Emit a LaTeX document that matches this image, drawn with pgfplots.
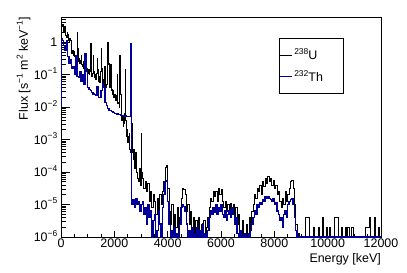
\documentclass[border=0pt]{standalone}
\usepackage{pgfplots}
\pgfplotsset{compat=1.18}
\usepackage{pgfplotstable}
\usepackage{fontspec}
\setmainfont{Liberation Sans}
\definecolor{rootblue}{RGB}{0,0,153}
\newcommand{\supx}[1]{\raisebox{0.42em}{\fontsize{8.5}{9}\selectfont #1}}
\newcommand{\lblfont}{\fontsize{12.5}{14}\selectfont}

\pgfplotstableread{
x y
0 2.51
25 3.16
50 3.55
75 2.24
100 2.0
125 2.82
150 2.51
175 1.58
200 1.41
225 2.0
250 1.78
275 1.12
300 1.0
325 1.26
350 1.12
375 0.501
400 0.447
425 0.562
450 0.398
475 0.501
500 0.355
525 0.316
550 0.398
575 0.282
600 2.0
625 0.631
650 0.251
675 0.316
700 0.224
725 0.282
750 0.398
775 0.200
800 0.178
825 0.251
850 0.158
875 0.200
900 0.316
925 0.178
950 0.126
975 0.158
1000 0.112
1025 0.141
1050 0.100
1075 0.126
1100 0.891
1125 0.200
1150 0.0891
1175 0.112
1200 0.398
1225 0.126
1250 0.0794
1275 0.100
1300 0.0708
1325 0.112
1350 0.316
1375 0.141
1400 0.0631
1425 0.0891
1450 0.0562
1475 0.126
1500 0.631
1525 0.158
1550 0.0501
1575 0.0708
1600 0.0447
1625 0.178
1650 0.0631
1675 0.0398
1700 0.0501
1725 0.251
1750 1.0
1775 0.200
1800 0.224
1825 0.0398
1850 0.200
1875 0.0316
1900 0.0355
1925 0.0251
1950 0.0316
1975 0.0200
2000 0.0251
2025 0.0178
2050 0.0158
2075 0.0224
2100 0.100
2125 0.0126
2150 0.0141
2175 0.0100
2200 0.398
2225 0.0251
2250 0.00631
2275 0.00398
2300 0.00501
2325 0.00251
2350 0.00316
2375 0.00631
2400 0.141
2425 0.00398
2450 0.00126
2475 0.00200
2500 7.94e-4
2525 1.26e-3
2550 1.58e-3
2575 5.01e-4
2600 3.98e-4
2625 7.94e-4
2650 3.16e-3
2675 3.98e-4
2700 2.51e-4
2725 5.01e-4
2750 1.26e-4
2775 2.51e-4
2800 3.98e-4
2825 1.0e-4
2850 1.0e-4
2875 6.31e-5
2900 5.01e-5
2925 1.26e-4
2950 1.26e-4
2975 3.98e-5
3000 1.58e-3
3025 1.0e-4
3050 6.31e-5
3100 3.16e-5
3150 5.01e-5
3200 2.51e-5
3250 4.47e-5
3300 1.26e-5
3350 2.51e-5
3400 7.94e-6
3450 2.0e-5
3500 1.26e-5
3550 5.01e-6
3600 1.58e-5
3650 6.31e-6
3700 2.0e-5
3750 1.0e-5
3800 2.51e-5
3850 5.01e-5
3900 1.41e-4
3950 1.58e-4
4000 3.16e-5
4050 6.31e-6
4100 2.51e-6
4150 1.0e-5
4200 1.26e-6
4250 5.01e-6
4300 2.0e-6
4350 7.94e-6
4400 1e-6
4450 3.98e-6
4500 1.58e-5
4550 3.16e-5
4600 2.82e-5
4650 2.0e-5
4700 6.31e-6
4750 1.0e-5
4800 2.51e-6
4850 6.31e-6
4900 1.58e-6
4950 3.98e-6
5000 1e-6
5050 3.16e-6
5100 1.58e-6
5150 3.98e-6
5200 1e-6
5250 2.51e-6
5300 1.26e-6
5350 3.16e-6
5400 1e-6
5450 2.0e-6
5500 3.98e-6
5550 7.94e-6
5600 1.58e-5
5650 1.26e-5
5700 2.51e-5
5750 1.78e-5
5800 2.51e-5
5850 1.26e-5
5900 3.16e-5
5950 2.0e-5
6000 2.82e-5
6050 1.26e-5
6100 7.94e-6
6150 1.26e-5
6200 6.31e-6
6250 1.0e-5
6300 5.01e-6
6350 1.12e-5
6400 6.31e-6
6450 1.0e-5
6500 3.98e-6
6550 7.94e-6
6600 2.51e-6
6650 5.01e-6
6700 1.58e-6
6750 1e-6
6800 3.16e-6
6850 1.26e-6
6900 1e-6
6950 2.51e-6
7000 1.26e-6
7050 3.98e-6
7100 1.58e-6
7150 6.31e-6
7200 1.0e-5
7250 2.0e-5
7300 1.58e-5
7350 3.16e-5
7400 2.51e-5
7450 3.98e-5
7500 2.0e-5
7550 5.01e-5
7600 3.55e-5
7650 6.31e-5
7700 4.47e-5
7750 7.08e-5
7800 5.01e-5
7850 6.31e-5
7900 3.98e-5
7950 5.62e-5
8000 3.16e-5
8050 3.98e-5
8100 2.0e-5
8150 2.51e-5
8200 1.26e-5
8250 7.94e-6
8300 1.58e-5
8350 1.0e-5
8400 2.51e-5
8450 1.26e-5
8500 2.0e-5
8550 3.16e-5
8600 5.01e-5
8650 5.62e-5
8700 3.16e-5
8750 1.0e-5
8800 2.51e-6
8850 1e-6
8900 1.3e-6
8950 1e-6
9150 4e-6
9250 4e-6
9300 1e-6
9450 2e-6
9500 1e-6
9650 2e-6
9700 1e-6
9800 4e-6
9850 1e-6
9950 2e-6
10000 1e-6
10050 2e-6
10100 1e-6
10250 4e-6
10400 1e-6
10500 2e-6
10550 1e-6
10650 2e-6
10700 1e-6
10750 2e-6
10800 1e-6
10900 2e-6
10950 1e-6
11400 2e-6
11550 4e-6
11600 1e-6
11750 4e-6
11800 1e-6
11900 2e-6
11950 1e-6
12000 1e-6
}\tabU

\pgfplotstableread{
x y
0 0.011
15 1.26
50 1.12
100 0.79
150 0.56
200 1.15
250 0.355
300 0.224
350 0.282
400 0.158
450 0.178
500 0.100
550 0.398
600 0.0891
650 0.0794
700 0.126
750 0.0631
800 0.100
850 0.0501
900 0.447
950 0.158
1000 0.0398
1050 0.0355
1100 0.0316
1150 0.0282
1200 0.0251
1250 0.0240
1300 0.0224
1350 0.0417
1400 0.0200
1450 0.0191
1500 0.0316
1550 0.0537
1600 0.0398
1650 0.0141
1700 0.0112
1750 0.0089
1800 0.0079
1850 0.0076
1900 0.0071
1950 0.0068
2000 0.0065
2050 0.0063
2100 0.0061
2150 0.0059
2200 0.0058
2250 0.0056
2300 0.0055
2350 0.0054
2400 0.0053
2450 0.0052
2500 0.0051
2550 0.0050
2600 0.93
2650 1.0e-5
2700 1.41e-5
2750 7.94e-6
2800 1.58e-5
2850 1.0e-5
2900 1.26e-5
2950 6.31e-6
3000 1.0e-5
3050 1.26e-5
3100 5.01e-6
3150 7.94e-6
3200 2.51e-6
3250 1.0e-5
3300 3.98e-6
3350 6.31e-6
3400 1e-6
3450 3.16e-6
3500 5.01e-6
3550 1e-6
3600 1.58e-6
3650 6.31e-6
3700 2.51e-6
3750 1e-6
3800 7.94e-6
3850 2.0e-5
3900 5.01e-5
3950 5.62e-5
4000 1.26e-5
4050 2.51e-6
4100 1e-6
4150 1.58e-6
4200 1e-6
4250 2.0e-6
4300 1e-6
4350 1.26e-6
4400 1e-6
4450 2.51e-6
4500 7.94e-6
4550 1.0e-5
4600 8.91e-6
4650 6.31e-6
4700 2.51e-6
4750 1e-6
4800 1.58e-6
4850 1e-6
4900 2.0e-6
4950 1e-6
5000 1.26e-6
5050 1e-6
5100 2.0e-6
5150 1e-6
5200 1.58e-6
5250 1e-6
5300 2.51e-6
5350 1e-6
5400 1.26e-6
5450 1e-6
5500 1.58e-6
5550 3.98e-6
5600 6.31e-6
5650 5.01e-6
5700 7.94e-6
5750 5.62e-6
5800 1.0e-5
5850 5.01e-6
5900 7.94e-6
5950 6.31e-6
6000 1.0e-5
6050 5.01e-6
6100 3.98e-6
6150 6.31e-6
6200 3.16e-6
6250 5.01e-6
6300 6.31e-6
6350 3.98e-6
6400 7.94e-6
6450 5.01e-6
6500 2.51e-6
6550 3.98e-6
6600 1.26e-6
6650 1e-6
6700 1.58e-6
6750 1e-6
6850 1.26e-6
6900 1e-6
7000 1.26e-6
7050 1e-6
7100 1.58e-6
7150 2.51e-6
7200 3.98e-6
7250 6.31e-6
7300 5.01e-6
7350 1.0e-5
7400 7.94e-6
7450 1.12e-5
7500 1.0e-5
7550 1.41e-5
7600 1.26e-5
7650 1.78e-5
7700 1.58e-5
7750 1.78e-5
7800 1.58e-5
7850 1.41e-5
7900 1.26e-5
7950 1.58e-5
8000 1.0e-5
8050 1.12e-5
8100 6.31e-6
8150 5.01e-6
8200 3.16e-6
8250 3.98e-6
8300 2.0e-6
8350 5.01e-6
8400 6.31e-6
8450 3.98e-6
8500 1.0e-5
8550 1.26e-5
8600 1.41e-5
8650 1.58e-5
8700 1.0e-5
8750 3.98e-6
8800 1.58e-6
8850 1e-6
12000 1e-6
}\tabTh

\begin{document}
\begin{tikzpicture}
\path[use as bounding box] (-61bp,-36bp) rectangle (346bp,237bp);
\begin{axis}[
  at={(0,0)}, anchor=south west,
  scale only axis, width=320bp, height=220bp,
  ymode=log, xmin=0, xmax=12000, ymin=1e-6, ymax=5.9,
  clip=false,
  scaled x ticks=false,
  axis line style={line width=0.7bp},
  xtick pos=left, ytick pos=left, tick align=inside,
  major tick length=9bp, minor tick length=5bp,
  xtick style={/pgfplots/major tick length=6bp,/pgfplots/minor tick length=3.3bp},
  tick style={line width=0.6bp, black},
  xtick={0,2000,4000,6000,8000,10000,12000},
  xticklabels={0,2000,4000,6000,8000,10000,12000},
  minor x tick num=3,
  ytick={1e-6,1e-5,1e-4,1e-3,1e-2,1e-1,1},
  yticklabels={10\supx{−6},10\supx{−5},10\supx{−4},10\supx{−3},10\supx{−2},10\supx{−1},1},
  minor ytick={2e-6,3e-6,4e-6,5e-6,6e-6,7e-6,8e-6,9e-6,
    2e-5,3e-5,4e-5,5e-5,6e-5,7e-5,8e-5,9e-5,
    2e-4,3e-4,4e-4,5e-4,6e-4,7e-4,8e-4,9e-4,
    2e-3,3e-3,4e-3,5e-3,6e-3,7e-3,8e-3,9e-3,
    2e-2,3e-2,4e-2,5e-2,6e-2,7e-2,8e-2,9e-2,
    2e-1,3e-1,4e-1,5e-1,6e-1,7e-1,8e-1,9e-1,2,3,4,5},
  xticklabel style={font=\lblfont, inner sep=0pt, anchor=north, yshift=-2bp},
  yticklabel style={font=\lblfont, inner sep=0pt, anchor=base east, xshift=-3.5bp, yshift=-4.5bp},
  xlabel={Energy [keV]},
  xlabel style={font=\lblfont, at={(axis description cs:1,0)}, anchor=north east, inner sep=0pt, yshift=-16.5bp},
  ylabel={Flux [s\supx{−1} m\supx{2} keV\supx{−1}]},
  ylabel style={font=\lblfont, at={(axis description cs:-0.117,1)}, anchor=east, inner sep=0pt},
  legend style={at={(axis description cs:0.681,0.905)}, anchor=north west, draw=black, line width=0.5pt, fill=white,
    font=\lblfont, inner xsep=1bp, inner ysep=9bp, row sep=6bp, nodes={inner sep=1.5bp}},
  legend cell align=left,
  legline/.style={legend image code/.code={\draw[##1, line width=0.6pt] plot coordinates {(0bp,0bp) (6bp,0bp) (12bp,0bp)};}},
]
\addplot[const plot mark left, black, line width=0.8bp, legline] table[x=x,y=y] {\tabU};
\addlegendentry{\makebox[46bp][l]{\supx{238}U}}
\addplot[const plot mark left, rootblue, line width=1.1bp, legline] table[x=x,y=y] {\tabTh};
\addlegendentry{\makebox[46bp][l]{\supx{232}Th}}
\end{axis}
\end{tikzpicture}
\end{document}
